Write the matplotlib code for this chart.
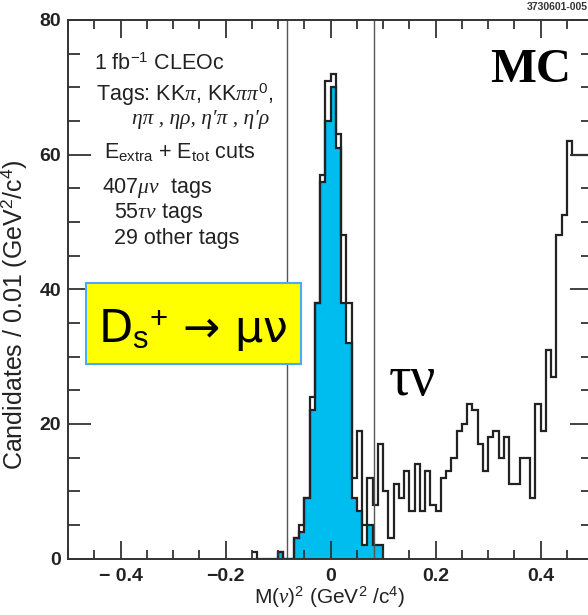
import numpy as np
import matplotlib.pyplot as plt
from matplotlib.patches import Rectangle
from matplotlib.ticker import MultipleLocator

plt.rcParams["font.family"] = ["Liberation Sans", "DejaVu Sans"]
plt.rcParams["mathtext.fontset"] = "custom"
plt.rcParams["mathtext.rm"] = "Liberation Sans"
plt.rcParams["mathtext.it"] = "Liberation Serif:italic"
plt.rcParams["mathtext.bf"] = "Liberation Sans:bold"

# histogram, bins of 0.01 GeV^2/c^4
BIN_WIDTH = 0.01
TOTAL_START = -0.15
total_counts = [
    1, 0, 0, 0, 0, 1, 0, 0, 3, 5, 9, 24, 38, 57, 71,      # -0.15 .. -0.01
    72, 63, 48, 38, 12, 19, 5, 12, 8, 17,                 # 0.00 .. 0.09
    10, 3, 11, 9, 13, 7, 14, 7, 13, 8,                    # 0.10 .. 0.19
    7, 12, 13, 15, 19, 20, 23, 22, 17, 13,                # 0.20 .. 0.29
    18, 19, 15, 18, 11, 11, 15, 15, 9, 23,                # 0.30 .. 0.39
    19, 31, 27, 48, 51, 62, 60, 60, 60, 60,               # 0.40 .. 0.49
]
MUNU_START = -0.10
munu_counts = [1, 0, 0, 3, 4, 9, 22, 38, 56, 65,
               70, 61, 38, 32, 9, 7, 2, 5, 2, 2]

signal_window = [-0.0825, 0.0825]

x_major = [-0.4, -0.2, 0.0, 0.2, 0.4]
x_labels = ["\u2212 0.4", "\u22120.2", "0", "0.2", "0.4"]
y_major = [0, 20, 40, 60, 80]

info_lines = [
    "1 fb$^{-1}$ CLEOc",
    "Tags: KK$\\pi$, KK$\\pi\\pi^0$,",
    "\u03b7\u03c0 , \u03b7\u03c1, \u03b7\u2032\u03c0 , \u03b7\u2032\u03c1",
    "E$_{\\rm extra}$ + E$_{\\rm tot}$ cuts",
    "407$\\mu\\nu$  tags",
    "55$\\tau\\nu$ tags",
    "29 other tags",
]

BLUE = "#00bdf0"


def bin_edges(start, n):
    return start + BIN_WIDTH * np.arange(n + 1)


def px(x):
    # pixel column of the reference -> data x
    return (x - 330) / 525.0


def py(y):
    # pixel row of the reference -> data y
    return (558.5 - y) / 6.73


fig = plt.figure(figsize=(5.88, 6.15), dpi=100)
ax = fig.add_axes([68 / 588, 56.5 / 615, 525 / 588, 538.5 / 615])

munu_edges = bin_edges(MUNU_START, len(munu_counts))
total_edges = bin_edges(TOTAL_START, len(total_counts))

ax.stairs(munu_counts, munu_edges, fill=True, facecolor=BLUE, edgecolor="none")
ax.stairs(munu_counts, munu_edges, color="#222222", lw=1.6, baseline=0)
ax.stairs(total_counts, total_edges, color="#222222", lw=1.6, baseline=None)

for xv in signal_window:
    ax.axvline(xv, color="#555555", lw=1.0)

ax.set_xlim(-0.5, 0.5)
ax.set_ylim(0, 80)
ax.set_xticks(x_major)
ax.set_xticklabels(x_labels)
ax.set_yticks(y_major)
ax.xaxis.set_minor_locator(MultipleLocator(0.05))
ax.yaxis.set_minor_locator(MultipleLocator(5))
ax.tick_params(which="both", direction="in", top=True, right=True,
               width=1.3, color="#333333")
ax.tick_params(axis="x", which="major", length=13, pad=7)
ax.tick_params(axis="x", which="minor", length=6.5)
ax.tick_params(axis="y", which="major", length=16.5, pad=5)
ax.tick_params(axis="y", which="minor", length=8.5)
for lab in ax.get_xticklabels() + ax.get_yticklabels():
    lab.set_fontsize(14)
    lab.set_fontweight("bold")
    lab.set_color("#222222")
for sp in ax.spines.values():
    sp.set_linewidth(1.4)
    sp.set_color("#333333")

# text block on the left
info_pos = [(93, 70), (95, 101), (131, 124), (103, 158),
            (102, 193), (113, 218), (113, 244)]
for i, (txt, (xx, yy)) in enumerate(zip(info_lines, info_pos)):
    if i == 2:
        ax.text(px(xx), py(yy), txt, fontsize=15.5, family="Liberation Serif",
                style="italic", color="#222222", ha="left", va="baseline")
    else:
        ax.text(px(xx), py(yy), txt, fontsize=15.5, color="#222222",
                ha="left", va="baseline")

# yellow label box
ax.add_patch(Rectangle((px(85), py(364)), px(300) - px(85), py(283) - py(364),
                       facecolor="#ffff00", edgecolor="#4aa8ff", lw=1.5,
                       zorder=3))
ax.text(px(98), py(342), "D$_{\\rm s}$$^{+}$ \u2192 \u03bc\u03bd",
        fontsize=32, family="DejaVu Sans", color="black",
        ha="left", va="baseline", zorder=4)

ax.text(px(388), py(395), "\u03c4\u03bd", fontsize=40,
        family="Liberation Serif", ha="left", va="baseline")
ax.text(px(490), py(82), "MC", fontsize=35, family="Liberation Serif",
        fontweight="bold", ha="left", va="baseline")

fig.text(1.0, 1 - 10 / 615, "3730601-005", fontsize=7.5, fontweight="bold",
         color="#333333", ha="right", va="baseline")
fig.text(14 / 588, 1 - 315 / 615, "Candidates / 0.01 (GeV$^2$/c$^4$)",
         rotation=90, fontsize=18, color="#222222", ha="center", va="center")
fig.text(330 / 588, 1 - 604 / 615, "M($\\nu$)$^2$ (GeV$^2$ /c$^4$)",
         fontsize=15, color="#222222", ha="center", va="baseline")

fig.savefig("out.png", dpi=100)
